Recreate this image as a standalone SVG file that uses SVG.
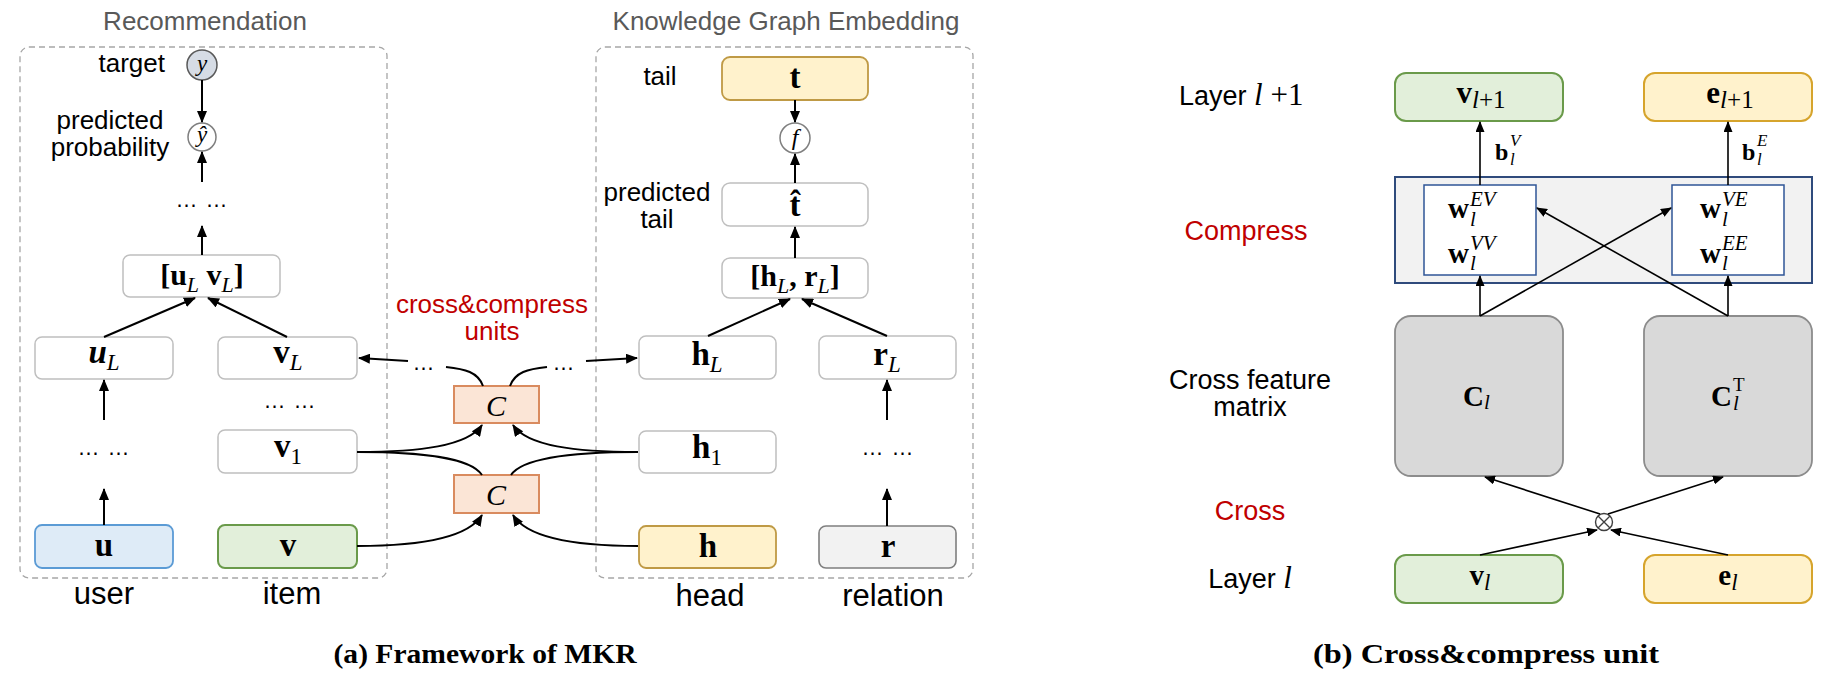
<svg xmlns="http://www.w3.org/2000/svg" width="1830" height="674" viewBox="0 0 1830 674">
<defs>
<marker id="ah" markerWidth="12" markerHeight="10" refX="11" refY="5" orient="auto" markerUnits="userSpaceOnUse"><path d="M0,0 L12,5 L0,10 z" fill="#000"/></marker>
<marker id="ahs" markerWidth="11" markerHeight="9" refX="10" refY="4.5" orient="auto" markerUnits="userSpaceOnUse"><path d="M0,0 L11,4.5 L0,9 z" fill="#000"/></marker>
</defs>
<style>
.lbl{font-family:"Liberation Sans",Arial,sans-serif;font-size:26px;fill:#000}
.ttl{font-family:"Liberation Sans",Arial,sans-serif;font-size:26px;fill:#595959}
.big{font-size:31px}
.rl{font-size:27px}
.dots{font-size:22px;letter-spacing:1px}
.red{fill:#c00000}
.m{font-family:"Liberation Serif","Times New Roman",serif;font-weight:bold;font-size:33px;fill:#000}
.it{font-style:italic;font-weight:normal}
.box{fill:#fff;stroke:#bfbfbf;stroke-width:1.5}
.dash{fill:none;stroke:#a6a6a6;stroke-width:1.3;stroke-dasharray:6 4}
.cn{fill:none;stroke:#000;stroke-width:2}
.cs{fill:none;stroke:#000;stroke-width:1.6}
.cbox{fill:#fbe5d6;stroke:#d98b5f;stroke-width:2}
.gbox{fill:#e2efda;stroke:#6a9a4a;stroke-width:2}
.ybox{fill:#fff2cc;stroke:#bf9a45;stroke-width:1.8}
.obox{fill:#fff2cc;stroke:#d6a42c;stroke-width:2}
.cap{font-family:"Liberation Serif","Times New Roman",serif;font-weight:bold;font-size:27px;fill:#000}
</style>
<rect width="1830" height="674" fill="#fff"/>

<g id="frame-rec">
<rect class="dash" x="20" y="47" width="367" height="531" rx="9"/>
<text class="ttl" x="205" y="30" text-anchor="middle">Recommendation</text>
</g>
<g id="frame-kge">
<rect class="dash" x="596" y="47" width="377" height="531" rx="9"/>
<text class="ttl" x="786" y="30" text-anchor="middle">Knowledge Graph Embedding</text>
</g>

<g id="node-target">
<text class="lbl" x="165" y="72" text-anchor="end">target</text>
<circle cx="202" cy="65" r="15" fill="#d6dce5" stroke="#595959" stroke-width="1.5"/>
<text class="m it" x="202" y="71" style="font-size:23px" text-anchor="middle">y</text>
</g>
<g id="node-pred">
<text class="lbl" x="110" y="129" text-anchor="middle">predicted</text>
<text class="lbl" x="110" y="156" text-anchor="middle">probability</text>
<circle cx="202" cy="137" r="14" fill="#fff" stroke="#7f7f7f" stroke-width="1.5"/>
<text class="m it" x="202" y="142" style="font-size:23px" text-anchor="middle">ŷ</text>
</g>
<g id="node-dots-top"><text class="lbl dots" x="202" y="207" text-anchor="middle">… …</text></g>
<g id="node-uLvL">
<rect class="box" x="123" y="255" width="157" height="42" rx="7"/>
<text class="m" x="202" y="285" style="font-size:30px" text-anchor="middle">[u<tspan class="it" font-size="22" dy="7">L</tspan><tspan dy="-7"> v</tspan><tspan class="it" font-size="22" dy="7">L</tspan><tspan dy="-7">]</tspan></text>
</g>
<g id="node-uL">
<rect class="box" x="35" y="337" width="138" height="42" rx="7"/>
<text class="m" x="104" y="363" text-anchor="middle"><tspan font-style="italic">u</tspan><tspan class="it" font-size="23" dy="7">L</tspan></text>
</g>
<g id="node-vL">
<rect class="box" x="218" y="337" width="139" height="42" rx="7"/>
<text class="m" x="288" y="363" text-anchor="middle">v<tspan class="it" font-size="23" dy="7">L</tspan></text>
</g>
<g id="node-dots-u"><text class="lbl dots" x="104" y="455" text-anchor="middle">… …</text></g>
<g id="node-dots-v"><text class="lbl dots" x="290" y="408" text-anchor="middle">… …</text></g>
<g id="node-v1">
<rect class="box" x="218" y="430" width="139" height="43" rx="7"/>
<text class="m" x="288" y="457" text-anchor="middle">v<tspan font-weight="normal" font-size="23" dy="7">1</tspan></text>
</g>
<g id="node-u">
<rect x="35" y="525" width="138" height="43" rx="7" fill="#deebf7" stroke="#5b9bd5" stroke-width="1.8"/>
<text class="m" x="104" y="556" text-anchor="middle">u</text>
<text class="lbl big" x="104" y="604" text-anchor="middle">user</text>
</g>
<g id="node-v">
<rect class="gbox" x="218" y="525" width="139" height="43" rx="7"/>
<text class="m" x="288" y="556" text-anchor="middle">v</text>
<text class="lbl big" x="292" y="604" text-anchor="middle">item</text>
</g>

<g id="label-cc">
<text class="lbl red" x="492" y="313" text-anchor="middle">cross&amp;compress</text>
<text class="lbl red" x="492" y="340" text-anchor="middle">units</text>
</g>
<g id="node-C2">
<rect class="cbox" x="454" y="386" width="85" height="37"/>
<text class="m it" x="496" y="416" style="font-size:30px" text-anchor="middle">C</text>
</g>
<g id="node-C1">
<rect class="cbox" x="454" y="475" width="85" height="38"/>
<text class="m it" x="496" y="505" style="font-size:30px" text-anchor="middle">C</text>
</g>
<g id="dots-cc">
<text class="lbl dots" x="424" y="370" text-anchor="middle">…</text>
<text class="lbl dots" x="564" y="370" text-anchor="middle">…</text>
</g>

<g id="node-t">
<text class="lbl" x="660" y="85" text-anchor="middle">tail</text>
<rect class="ybox" x="722" y="57" width="146" height="43" rx="8"/>
<text class="m" x="795" y="88" text-anchor="middle">t</text>
</g>
<g id="node-f">
<circle cx="795" cy="138" r="15" fill="#fff" stroke="#7f7f7f" stroke-width="1.5"/>
<text class="m it" x="795" y="145" style="font-size:24px" text-anchor="middle">f</text>
</g>
<g id="node-that">
<text class="lbl" x="657" y="201" text-anchor="middle">predicted</text>
<text class="lbl" x="657" y="228" text-anchor="middle">tail</text>
<rect class="box" x="722" y="183" width="146" height="43" rx="8"/>
<text class="m" x="795" y="216" text-anchor="middle">t̂</text>
</g>
<g id="node-hLrL">
<rect class="box" x="722" y="258" width="146" height="40" rx="8"/>
<text class="m" x="795" y="286" style="font-size:30px" text-anchor="middle">[h<tspan class="it" font-size="22" dy="7">L</tspan><tspan dy="-7">, r</tspan><tspan class="it" font-size="22" dy="7">L</tspan><tspan dy="-7">]</tspan></text>
</g>
<g id="node-hL">
<rect class="box" x="639" y="336" width="137" height="43" rx="7"/>
<text class="m" x="707" y="365" text-anchor="middle">h<tspan class="it" font-size="23" dy="7">L</tspan></text>
</g>
<g id="node-rL">
<rect class="box" x="819" y="336" width="137" height="43" rx="7"/>
<text class="m" x="887" y="365" text-anchor="middle">r<tspan class="it" font-size="23" dy="7">L</tspan></text>
</g>
<g id="node-h1">
<rect class="box" x="639" y="431" width="137" height="42" rx="7"/>
<text class="m" x="707" y="458" text-anchor="middle">h<tspan font-weight="normal" font-size="23" dy="7">1</tspan></text>
</g>
<g id="node-dots-r"><text class="lbl dots" x="888" y="455" text-anchor="middle">… …</text></g>
<g id="node-h">
<rect class="ybox" x="639" y="526" width="137" height="42" rx="7"/>
<text class="m" x="708" y="557" text-anchor="middle">h</text>
<text class="lbl big" x="710" y="606" text-anchor="middle">head</text>
</g>
<g id="node-r">
<rect x="819" y="526" width="137" height="42" rx="7" fill="#f2f2f2" stroke="#7f7f7f" stroke-width="1.6"/>
<text class="m" x="888" y="557" text-anchor="middle">r</text>
<text class="lbl big" x="893" y="606" text-anchor="middle">relation</text>
</g>

<g id="labels-b">
<text class="lbl rl" x="1179" y="105">Layer <tspan font-family="Liberation Serif, serif" font-style="italic" font-size="31">l</tspan><tspan font-family="Liberation Serif, serif" font-size="31"> +1</tspan></text>
<text class="lbl rl red" x="1246" y="240" text-anchor="middle">Compress</text>
<text class="lbl rl" x="1250" y="389" text-anchor="middle">Cross feature</text>
<text class="lbl rl" x="1250" y="416" text-anchor="middle">matrix</text>
<text class="lbl rl red" x="1250" y="520" text-anchor="middle">Cross</text>
<text class="lbl rl" x="1250" y="588" text-anchor="middle">Layer <tspan font-family="Liberation Serif, serif" font-style="italic" font-size="31">l</tspan></text>
</g>

<g id="node-vl1">
<rect class="gbox" x="1395" y="73" width="168" height="48" rx="11"/>
<text class="m" x="1481" y="103" style="font-size:31px" text-anchor="middle">v<tspan font-weight="normal" font-size="25" dy="5"><tspan font-style="italic">l</tspan>+1</tspan></text>
</g>
<g id="node-el1">
<rect class="obox" x="1644" y="73" width="168" height="48" rx="11"/>
<text class="m" x="1730" y="103" style="font-size:31px" text-anchor="middle">e<tspan font-weight="normal" font-size="25" dy="5"><tspan font-style="italic">l</tspan>+1</tspan></text>
</g>
<g id="node-compress">
<rect x="1395" y="177" width="417" height="106" fill="#f2f2f2" stroke="#2f4b7c" stroke-width="2"/>
</g>
<g id="node-wV">
<rect x="1424" y="185" width="112" height="90" fill="#fff" stroke="#2f5597" stroke-width="1.5"/>
<text class="m" x="1448" y="218" style="font-size:29px">w</text>
<text class="m it" x="1470" y="206" style="font-size:21px">EV</text>
<text class="m it" x="1470" y="226" style="font-size:21px">l</text>
<text class="m" x="1448" y="263" style="font-size:29px">w</text>
<text class="m it" x="1470" y="250" style="font-size:21px">VV</text>
<text class="m it" x="1470" y="270" style="font-size:21px">l</text>
</g>
<g id="node-wE">
<rect x="1672" y="185" width="112" height="90" fill="#fff" stroke="#2f5597" stroke-width="1.5"/>
<text class="m" x="1700" y="218" style="font-size:29px">w</text>
<text class="m it" x="1722" y="206" style="font-size:21px">VE</text>
<text class="m it" x="1722" y="226" style="font-size:21px">l</text>
<text class="m" x="1700" y="263" style="font-size:29px">w</text>
<text class="m it" x="1722" y="250" style="font-size:21px">EE</text>
<text class="m it" x="1722" y="270" style="font-size:21px">l</text>
</g>
<g id="label-bias">
<text class="m" x="1495" y="160" style="font-size:24px">b</text>
<text class="m it" x="1510" y="146" style="font-size:17px">V</text>
<text class="m it" x="1510" y="165" style="font-size:17px">l</text>
<text class="m" x="1742" y="160" style="font-size:24px">b</text>
<text class="m it" x="1757" y="146" style="font-size:17px">E</text>
<text class="m it" x="1757" y="165" style="font-size:17px">l</text>
</g>
<g id="node-Cl">
<rect x="1395" y="316" width="168" height="160" rx="16" fill="#d9d9d9" stroke="#8c8c8c" stroke-width="1.8"/>
<text class="m" x="1463" y="406" style="font-size:29px">C<tspan class="it" font-size="21" dy="3">l</tspan></text>
</g>
<g id="node-ClT">
<rect x="1644" y="316" width="168" height="160" rx="16" fill="#d9d9d9" stroke="#8c8c8c" stroke-width="1.8"/>
<text class="m" x="1711" y="406" style="font-size:29px">C</text>
<text class="m" x="1733" y="391" style="font-size:19px;font-weight:normal">T</text>
<text class="m it" x="1733" y="410" style="font-size:21px">l</text>
</g>
<g id="node-otimes">
<circle cx="1604" cy="522" r="8.5" fill="#fff" stroke="#404040" stroke-width="1.4"/>
<path d="M1598,516 L1610,528 M1610,516 L1598,528" stroke="#404040" stroke-width="1.4"/>
</g>
<g id="node-vl">
<rect class="gbox" x="1395" y="555" width="168" height="48" rx="11"/>
<text class="m" x="1480" y="585" style="font-size:29px" text-anchor="middle">v<tspan class="it" font-size="23" dy="5">l</tspan></text>
</g>
<g id="node-el">
<rect class="obox" x="1644" y="555" width="168" height="48" rx="11"/>
<text class="m" x="1728" y="585" style="font-size:29px" text-anchor="middle">e<tspan class="it" font-size="23" dy="5">l</tspan></text>
</g>

<g id="connectors">
<path class="cn" d="M202,80 L202,122" marker-end="url(#ah)"/>
<path class="cn" d="M202,182 L202,152" marker-end="url(#ah)"/>
<path class="cn" d="M202,255 L202,226" marker-end="url(#ah)"/>
<path class="cn" d="M104,337 L195,298" marker-end="url(#ah)"/>
<path class="cn" d="M287,337 L208,298" marker-end="url(#ah)"/>
<path class="cn" d="M104,420 L104,380" marker-end="url(#ah)"/>
<path class="cn" d="M104,525 L104,489" marker-end="url(#ah)"/>

<path class="cn" d="M795,100 L795,122" marker-end="url(#ah)"/>
<path class="cn" d="M795,183 L795,154" marker-end="url(#ah)"/>
<path class="cn" d="M795,258 L795,227" marker-end="url(#ah)"/>
<path class="cn" d="M708,336 L790,299" marker-end="url(#ah)"/>
<path class="cn" d="M887,336 L802,299" marker-end="url(#ah)"/>
<path class="cn" d="M887,420 L887,380" marker-end="url(#ah)"/>
<path class="cn" d="M887,526 L887,489" marker-end="url(#ah)"/>

<path class="cn" d="M357,452 C420,452 468,446 482,425" marker-end="url(#ah)"/>
<path class="cn" d="M357,452 C420,452 470,457 482,475"/>
<path class="cn" d="M638,452 C575,452 527,446 513,425" marker-end="url(#ah)"/>
<path class="cn" d="M638,452 C575,452 523,457 511,475"/>
<path class="cn" d="M357,546 C420,546 468,538 482,515" marker-end="url(#ah)"/>
<path class="cn" d="M638,546 C575,546 527,538 513,515" marker-end="url(#ah)"/>
<path class="cn" d="M483,386 C478,372 465,369 446,367"/>
<path class="cn" d="M408,361 L359,358" marker-end="url(#ah)"/>
<path class="cn" d="M510,386 C515,372 528,369 547,367"/>
<path class="cn" d="M586,361 L637,358" marker-end="url(#ah)"/>

<path class="cs" d="M1480,316 L1480,276" marker-end="url(#ahs)"/>
<path class="cs" d="M1480,185 L1480,122" marker-end="url(#ahs)"/>
<path class="cs" d="M1728,316 L1728,276" marker-end="url(#ahs)"/>
<path class="cs" d="M1728,185 L1728,122" marker-end="url(#ahs)"/>
<path class="cs" d="M1480,316 L1671,208" marker-end="url(#ahs)"/>
<path class="cs" d="M1728,316 L1537,208" marker-end="url(#ahs)"/>
<path class="cs" d="M1480,555 L1597,530" marker-end="url(#ahs)"/>
<path class="cs" d="M1728,555 L1611,530" marker-end="url(#ahs)"/>
<path class="cs" d="M1600,514 L1485,477" marker-end="url(#ahs)"/>
<path class="cs" d="M1608,514 L1723,477" marker-end="url(#ahs)"/>
</g>

<g id="captions">
<text class="cap" x="485" y="663" text-anchor="middle" textLength="303" lengthAdjust="spacingAndGlyphs">(a) Framework of MKR</text>
<text class="cap" x="1486" y="663" text-anchor="middle" textLength="346" lengthAdjust="spacingAndGlyphs">(b) Cross&amp;compress unit</text>
</g>
</svg>
